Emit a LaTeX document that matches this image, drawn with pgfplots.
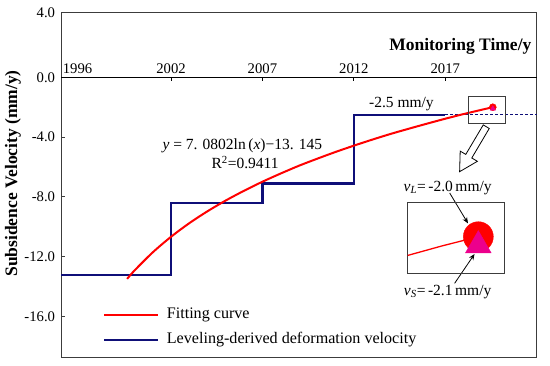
\documentclass[border=0pt]{standalone}
\usepackage{pgfplots}
\pgfplotsset{compat=1.18}
\usepackage{fontspec}
\setmainfont{Liberation Serif}
\usetikzlibrary{arrows.meta}
\definecolor{navyb}{RGB}{15,15,120}
\definecolor{framec}{RGB}{60,60,60}
\newcommand{\tickfont}{\fontsize{14.7bp}{17.6bp}\selectfont}
\newcommand{\txtfont}{\fontsize{15.5bp}{18.6bp}\selectfont}
\newcommand{\legfont}{\fontsize{16.1bp}{19.3bp}\selectfont}
\newcommand{\boldfont}{\fontsize{17.5bp}{21bp}\selectfont\bfseries}
\begin{document}
\begin{tikzpicture}
\begin{axis}[name=main, scale only axis, width=475.4bp, height=345bp,
  xmin=1996, xmax=2022, ymin=-18.71, ymax=4.34,
  xtick=\empty,
  ytick={-16,-12,-8,-4,0,4.34}, yticklabels={-16.0,-12.0,-8.0,-4.0,0.0,4.0},
  ytick pos=left, tick align=inside, major tick length=3.5bp,
  tick style={line width=1bp, color=framec},
  yticklabel style={font=\tickfont, inner sep=0pt, xshift=-6bp},
  axis line style={line width=1.3bp, draw=framec},
  ylabel={Subsidence Velocity (mm/y)},
  ylabel style={font=\boldfont, at={(axis description cs:-0.1016,0.533)}, anchor=center},
  clip=false, reverse legend,
  legend style={at={(axis description cs:0.0877,0.03)}, anchor=south west, draw=none, fill=none,
    inner sep=0pt, font=\legfont, row sep=10bp, column sep=8bp,
    nodes={inner sep=0pt, anchor=west, text height=11bp, text depth=3.5bp}},
  legend cell align=left,
  legend image code/.code={\draw[#1, line width=2bp] (0bp,0bp) -- (53.7bp,0bp);}
]
% zero line and top time axis
\draw[black, line width=1.3bp] (axis cs:1996,0) -- (axis cs:2022,0);
\draw[black, line width=1bp] (axis cs:2002,0) -- (axis cs:2002,-0.27);
\draw[black, line width=1bp] (axis cs:2007,0) -- (axis cs:2007,-0.27);
\draw[black, line width=1bp] (axis cs:2012,0) -- (axis cs:2012,-0.27);
\draw[black, line width=1bp] (axis cs:2017,0) -- (axis cs:2017,-0.27);
\node[font=\tickfont] at (axis cs:1996.89,0.575) {1996};
\node[font=\tickfont] at (axis cs:2002,0.575) {2002};
\node[font=\tickfont] at (axis cs:2007,0.575) {2007};
\node[font=\tickfont] at (axis cs:2012,0.575) {2012};
\node[font=\tickfont] at (axis cs:2017,0.575) {2017};
\node[font=\boldfont, anchor=east] at (axis cs:2021.9,2.05) {Monitoring Time/y};

% leveling-derived step velocity
\addplot[navyb, const plot, line width=2.2bp] coordinates {(1996,-13.2) (2002,-8.4) (2007,-7.1) (2012,-2.5) (2017,-2.5)};
\addlegendentry{Leveling-derived deformation velocity}
\addplot[navyb, line width=1.3bp, dash pattern=on 3bp off 2bp, forget plot] coordinates {(2017,-2.5) (2022,-2.5)};

% fitting curve
\addplot[red, line width=2bp, smooth] coordinates {
 (1999.6,-13.47) (2000,-12.915) (2001,-11.70) (2002,-10.66) (2003,-9.75) (2004,-8.95)
 (2005,-8.23) (2006,-7.58) (2007,-6.98) (2008,-6.43) (2009,-5.91) (2010,-5.44)
 (2011,-4.99) (2012,-4.57) (2013,-4.17) (2014,-3.79) (2015,-3.44) (2016,-3.10)
 (2017,-2.77) (2018,-2.46) (2019,-2.17) (2019.6,-2.0)};
\addlegendentry{Fitting curve}

\draw[framec, line width=1bp] (axis cs:2018.26,-1.31) rectangle (axis cs:2020.32,-3.09);
\addplot[only marks, mark=*, red, mark size=3.5bp, forget plot] coordinates {(2019.6,-2.0)};
\addplot[only marks, mark=triangle*, magenta, mark size=3bp, forget plot] coordinates {(2019.6,-2.1)};

% hollow block arrow
\draw[black, fill=white, line width=0.8bp, line join=miter]
  (axis cs:2019.077,-3.183) -- (axis cs:2018.121,-5.155) -- (axis cs:2017.816,-4.934)
  -- (axis cs:2017.784,-6.310) -- (axis cs:2018.755,-5.616) -- (axis cs:2018.45,-5.394)
  -- (axis cs:2019.405,-3.422) -- cycle;

\node[font=\txtfont] at (axis cs:2014.6,-1.76) {-2.5 mm/y};
\node[font=\txtfont] at (axis cs:2005.9,-4.57) {\textit{y} = 7. 0802ln\,(\textit{x})−13. 145};
\node[font=\txtfont] at (axis cs:2006.05,-5.68) {R\textsuperscript{2}=0.9411};
\node[font=\txtfont] at (axis cs:2017.13,-7.42) {\textit{v}\textsubscript{\textit{L}}=\,-2.0\,mm/y};
\node[font=\txtfont] at (axis cs:2017.13,-14.33) {\textit{v}\textsubscript{\textit{S}}=\,-2.1\,mm/y};
\draw[-{Stealth[length=6bp,width=5bp]}, line width=0.8bp] (axis cs:2017.24,-7.73) -- (axis cs:2018.24,-9.76);
\draw[-{Stealth[length=6bp,width=5bp]}, line width=0.8bp] (axis cs:2017.51,-13.77) -- (axis cs:2018.60,-11.81);
\end{axis}

% inset (x = years after 2018)
\begin{axis}[at={(346.4bp,84bp)}, anchor=south west, scale only axis, width=96.3bp, height=70.6bp,
  xmin=0.83, xmax=1.88, ymin=-2.42, ymax=-1.61, xtick=\empty, ytick=\empty,
  axis line style={line width=1bp, draw=framec}, clip=false]
\addplot[red, line width=1.3bp] coordinates {(0.83,-2.215) (1.2,-2.107) (1.6,-2.0)};
\addplot[only marks, mark=*, red, mark size=15bp] coordinates {(1.6,-2.0)};
\addplot[only marks, mark=triangle*, magenta, mark size=14.8bp] coordinates {(1.6,-2.1)};
\end{axis}
\pgfresetboundingbox
\path[use as bounding box] (-61.3bp,-8.7bp) rectangle (488.7bp,357.3bp);
\end{tikzpicture}
\end{document}
